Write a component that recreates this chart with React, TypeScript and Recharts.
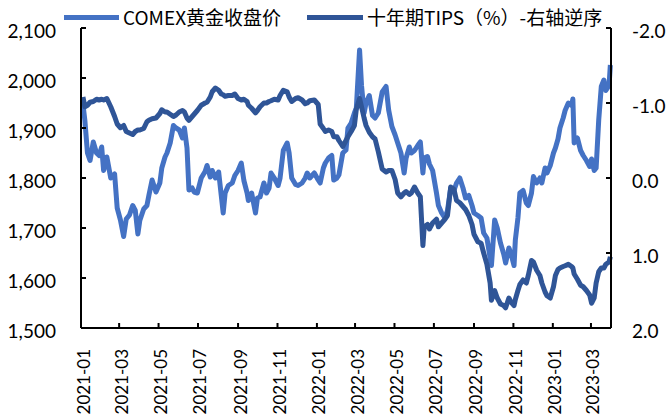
import { Line, LineChart, XAxis, YAxis } from "recharts";

const dates = [
  "2021-01-04","2021-01-07","2021-01-11","2021-01-15","2021-01-20","2021-01-25","2021-01-29","2021-02-02","2021-02-05","2021-02-10",
  "2021-02-16","2021-02-22","2021-02-26","2021-03-03","2021-03-08","2021-03-12","2021-03-17","2021-03-22","2021-03-26","2021-03-30",
  "2021-04-02","2021-04-08","2021-04-13","2021-04-16","2021-04-21","2021-04-27","2021-05-03","2021-05-06","2021-05-11","2021-05-14",
  "2021-05-19","2021-05-24","2021-05-28","2021-06-02","2021-06-07","2021-06-10","2021-06-14","2021-06-17","2021-06-22","2021-06-25",
  "2021-06-30","2021-07-06","2021-07-12","2021-07-15","2021-07-20","2021-07-23","2021-07-28","2021-08-02","2021-08-06","2021-08-09",
  "2021-08-12","2021-08-17","2021-08-23","2021-08-27","2021-09-01","2021-09-06","2021-09-10","2021-09-15","2021-09-17","2021-09-22",
  "2021-09-28","2021-10-01","2021-10-05","2021-10-11","2021-10-15","2021-10-19","2021-10-22","2021-10-27","2021-11-02","2021-11-05",
  "2021-11-10","2021-11-16","2021-11-19","2021-11-23","2021-11-29","2021-12-03","2021-12-09","2021-12-14","2021-12-17","2021-12-21",
  "2021-12-28","2022-01-03","2022-01-06","2022-01-11","2022-01-14","2022-01-19","2022-01-24","2022-01-27","2022-02-01","2022-02-04",
  "2022-02-10","2022-02-15","2022-02-18","2022-02-23","2022-02-28","2022-03-03","2022-03-08","2022-03-11","2022-03-15","2022-03-18",
  "2022-03-23","2022-03-28","2022-04-01","2022-04-06","2022-04-12","2022-04-18","2022-04-22","2022-04-27","2022-05-02","2022-05-06",
  "2022-05-11","2022-05-16","2022-05-19","2022-05-24","2022-05-27","2022-06-01","2022-06-06","2022-06-10","2022-06-14","2022-06-16",
  "2022-06-21","2022-06-24","2022-06-29","2022-07-05","2022-07-08","2022-07-13","2022-07-18","2022-07-22","2022-07-27","2022-08-01",
  "2022-08-05","2022-08-10","2022-08-15","2022-08-19","2022-08-24","2022-08-29","2022-09-01","2022-09-07","2022-09-12","2022-09-16",
  "2022-09-21","2022-09-26","2022-09-28","2022-10-03","2022-10-07","2022-10-12","2022-10-17","2022-10-20","2022-10-25","2022-10-28",
  "2022-11-02","2022-11-04","2022-11-08","2022-11-11","2022-11-16","2022-11-21","2022-11-24","2022-11-29","2022-12-02","2022-12-07",
  "2022-12-12","2022-12-15","2022-12-20","2022-12-23","2022-12-28","2023-01-02","2023-01-05","2023-01-09","2023-01-12","2023-01-17",
  "2023-01-20","2023-01-25","2023-01-30","2023-02-01","2023-02-03","2023-02-08","2023-02-13","2023-02-17","2023-02-22","2023-02-27",
  "2023-03-02","2023-03-06","2023-03-09","2023-03-13","2023-03-17","2023-03-21","2023-03-24","2023-03-29","2023-03-31",
];

// COMEX gold close, USD/oz
const gold = [
  1948,1915,1850,1835,1872,1850,1845,1862,1815,1842,
  1800,1808,1740,1716,1683,1718,1726,1745,1735,1688,
  1715,1738,1745,1765,1796,1772,1790,1820,1842,1850,
  1870,1905,1900,1896,1880,1900,1860,1776,1780,1772,
  1770,1800,1813,1825,1802,1815,1800,1812,1765,1730,
  1770,1785,1790,1805,1815,1830,1795,1770,1755,1770,
  1730,1760,1762,1790,1770,1780,1810,1800,1785,1800,
  1855,1870,1850,1800,1787,1785,1790,1800,1810,1800,
  1810,1796,1790,1820,1830,1840,1845,1796,1800,1806,
  1850,1856,1900,1910,1930,1940,2056,1985,1930,1950,
  1965,1925,1920,1930,1972,1983,1936,1903,1886,1870,
  1850,1810,1840,1862,1850,1855,1865,1872,1810,1840,
  1843,1828,1815,1770,1745,1730,1720,1735,1780,1775,
  1790,1800,1780,1760,1765,1745,1730,1725,1720,1690,
  1680,1640,1625,1716,1700,1670,1648,1630,1660,1650,
  1625,1676,1720,1770,1775,1750,1745,1770,1803,1790,
  1800,1790,1820,1810,1825,1850,1860,1878,1900,1920,
  1935,1950,1945,1958,1870,1880,1855,1845,1835,1823,
  1838,1815,1820,1916,1983,1996,1975,1985,2026,
];

// 10Y TIPS yield, %, drawn on the reversed right axis
const tips = [
  -1.08,-0.95,-0.97,-1.01,-1.02,-1.05,-1.04,-1.05,-1.04,-1.06,
  -0.95,-0.82,-0.72,-0.67,-0.70,-0.62,-0.60,-0.58,-0.62,-0.64,
  -0.64,-0.66,-0.75,-0.77,-0.79,-0.80,-0.86,-0.91,-0.88,-0.88,
  -0.85,-0.82,-0.84,-0.88,-0.90,-0.88,-0.80,-0.77,-0.82,-0.85,
  -0.90,-0.97,-1.00,-1.01,-1.08,-1.15,-1.20,-1.17,-1.12,-1.11,
  -1.09,-1.10,-1.10,-1.12,-1.06,-1.04,-1.05,-1.02,-0.97,-0.93,
  -0.87,-0.90,-0.95,-1.00,-1.00,-1.02,-1.03,-1.05,-1.04,-1.10,
  -1.17,-1.15,-1.08,-1.02,-1.06,-1.07,-1.04,-0.99,-1.00,-1.03,
  -1.04,-0.98,-0.72,-0.66,-0.62,-0.64,-0.62,-0.55,-0.55,-0.50,
  -0.42,-0.50,-0.55,-0.62,-0.70,-0.92,-1.06,-0.95,-0.80,-0.70,
  -0.61,-0.55,-0.52,-0.35,-0.12,-0.08,-0.10,-0.10,0.02,0.20,
  0.25,0.20,0.18,0.22,0.20,0.12,0.20,0.25,0.90,0.65,
  0.62,0.68,0.60,0.55,0.65,0.60,0.55,0.50,0.12,0.15,
  0.30,0.33,0.38,0.42,0.50,0.62,0.75,0.85,0.87,1.00,
  1.15,1.40,1.63,1.50,1.60,1.68,1.70,1.73,1.60,1.65,
  1.70,1.62,1.50,1.42,1.36,1.40,1.30,1.10,1.12,1.23,
  1.30,1.40,1.52,1.57,1.60,1.45,1.30,1.22,1.20,1.18,
  1.17,1.15,1.18,1.20,1.28,1.35,1.43,1.45,1.50,1.56,
  1.67,1.60,1.40,1.25,1.20,1.20,1.15,1.12,1.05,
];

const monthTicks = [
  "2021-01","2021-03","2021-05","2021-07","2021-09","2021-11","2022-01",
  "2022-03","2022-05","2022-07","2022-09","2022-11","2023-01","2023-03",
];
const goldTicks = [1500, 1600, 1700, 1800, 1900, 2000, 2100];
const tipsTicks = [-2, -1, 0, 1, 2];

const toTime = (s: string) => Date.parse(s.length === 7 ? s + "-01" : s);

const data = dates.map((d, i) => ({ t: toTime(d), gold: gold[i], tips: tips[i] }));

const LIGHT = "#4472C4";
const DARK = "#2F5597";
const FONT = "Lato, 'Noto Sans', sans-serif";

const LeftTick = (p: any) => (
  <g>
    <line x1={p.x + 25} x2={p.x + 30} y1={p.y} y2={p.y} stroke="#000" strokeWidth={2} />
    <text x={p.x} y={p.y} dy={2} textAnchor="end" dominantBaseline="central" fontSize={19} fontFamily={FONT} fill="#000">
      {p.payload.value.toLocaleString("en-US")}
    </text>
  </g>
);

const RightTick = (p: any) => (
  <g>
    <line x1={p.x - 21} x2={p.x - 26} y1={p.y} y2={p.y} stroke="#000" strokeWidth={2} />
    <text x={p.x} y={p.y} dy={2} textAnchor="start" dominantBaseline="central" fontSize={19} fontFamily={FONT} fill="#000">
      {p.payload.value.toFixed(1)}
    </text>
  </g>
);

const BottomTick = (p: any) => {
  const d = new Date(p.payload.value);
  const label = `${d.getUTCFullYear()}-${String(d.getUTCMonth() + 1).padStart(2, "0")}`;
  return (
    <g>
      <line x1={p.x} x2={p.x} y1={p.y - 21} y2={p.y - 26} stroke="#000" strokeWidth={2} />
      <g transform={`translate(${p.x + 2},${p.y})`}>
        <text transform="rotate(-90)" textAnchor="end" dominantBaseline="central" fontSize={17} fontFamily={FONT} fill="#000">
          {label}
        </text>
      </g>
    </g>
  );
};

const legendText = { position: "absolute" as const, top: 5, fontSize: 19, fontFamily: "'Noto Sans CJK SC', sans-serif", lineHeight: "24px", color: "#000", whiteSpace: "nowrap" as const };

export default function App() {
  return (
    <div style={{ position: "absolute", left: 0, top: 0, width: 669, height: 418, background: "#fff" }}>
      <LineChart width={669} height={418} data={data} margin={{ top: 28, right: 0, bottom: 0, left: 0 }}>
        <XAxis
          dataKey="t"
          type="number"
          domain={[toTime("2021-01-01"), toTime("2023-04-01")]}
          ticks={monthTicks.map(toTime)}
          height={90}
          tickSize={0}
          tickMargin={21}
          tick={<BottomTick />}
          axisLine={{ stroke: "#000", strokeWidth: 2 }}
          tickLine={false}
          interval={0}
        />
        <YAxis
          yAxisId="left"
          domain={[1500, 2100]}
          ticks={goldTicks}
          width={81}
          tickSize={0}
          tickMargin={25}
          tick={<LeftTick />}
          axisLine={{ stroke: "#000", strokeWidth: 2 }}
          tickLine={false}
          interval={0}
        />
        <YAxis
          yAxisId="right"
          orientation="right"
          reversed
          domain={[-2, 2]}
          ticks={tipsTicks}
          width={58}
          tickSize={0}
          tickMargin={21}
          tick={<RightTick />}
          axisLine={{ stroke: "#000", strokeWidth: 2 }}
          tickLine={false}
          interval={0}
        />
        <Line yAxisId="left" dataKey="gold" stroke={LIGHT} strokeWidth={5} dot={false} strokeLinejoin="round" isAnimationActive={false} />
        <Line yAxisId="right" dataKey="tips" stroke={DARK} strokeWidth={5} dot={false} strokeLinejoin="round" isAnimationActive={false} />
      </LineChart>
      <div style={{ position: "absolute", left: 64, top: 15, width: 55, height: 5, background: LIGHT }} />
      <div style={{ ...legendText, left: 123 }}>COMEX黄金收盘价</div>
      <div style={{ position: "absolute", left: 307, top: 15, width: 56, height: 5, background: DARK }} />
      <div style={{ ...legendText, left: 367 }}>十年期TIPS（%）-右轴逆序</div>
    </div>
  );
}
